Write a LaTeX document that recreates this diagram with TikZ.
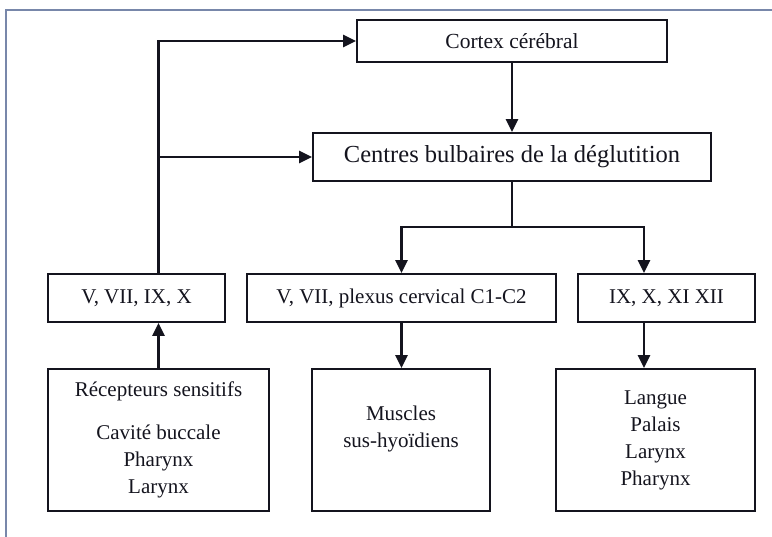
\documentclass[tikz,border=0pt]{standalone}
\usepackage{fontspec}
\setmainfont{Liberation Serif}
\usetikzlibrary{arrows.meta}
\definecolor{framecol}{RGB}{120,135,170}
\definecolor{ink}{RGB}{20,20,30}
\begin{document}
\begin{tikzpicture}[x=1pt,y=-1pt,
  box/.style={draw=ink,line width=1.9pt,rectangle,inner sep=0pt,align=center,text=ink,
    font=\fontsize{21}{27}\selectfont},
  conn/.style={draw=ink,line width=2.7pt},
  arr/.style={conn,-{Triangle[length=13pt,width=12pt]}}]
\useasboundingbox (0,0) rectangle (772,537);
\draw[framecol,line width=1.5pt] (6,537) -- (6,10) -- (772,10);
\node[box,minimum width=310pt,minimum height=42pt,font=\fontsize{21.5}{24}\selectfont] (cortex) at (512,41) {Cortex cérébral};
\node[box,minimum width=398pt,minimum height=48pt,font=\fontsize{24.5}{28}\selectfont] (centres) at (512,157) {Centres bulbaires de la déglutition};
\node[box,minimum width=177pt,minimum height=48pt] (nV) at (136.5,298) {V, VII, IX, X};
\node[box,minimum width=309pt,minimum height=48pt] (nplex) at (401.5,298) {V, VII, plexus cervical C1-C2};
\node[box,minimum width=177pt,minimum height=48pt] (nIX) at (666.5,298) {IX, X, XI XII};
\node[box,minimum width=221pt,minimum height=142pt] (recep) at (158.5,440) {Récepteurs sensitifs\\[16pt]Cavité buccale\\Pharynx\\Larynx};
\node[box,minimum width=178pt,minimum height=142pt] (muscles) at (401,440) {Muscles\\sus-hyoïdiens\\ };
\node[box,minimum width=199pt,minimum height=142pt] (langue) at (655.5,440) {Langue\\Palais\\Larynx\\Pharynx};
\coordinate (split) at (512,227);
\coordinate (ixin) at ([xshift=-22.5pt]nIX.north);
\coordinate (ixout) at ([xshift=-22.5pt]nIX.south);
\coordinate (vtop) at (recep.north |- nV.north);
\coordinate (branch) at (vtop |- centres.west);
\draw[arr] (recep.north) -- (recep.north |- nV.south);
\draw[arr] (vtop) |- (cortex.west);
\draw[arr] (branch) -- (centres.west);
\draw[arr] (cortex.south) -- (centres.north);
\draw[conn] (centres.south) -- (split);
\draw[arr] (split) -| (nplex.north);
\draw[arr] (split) -| (ixin);
\draw[arr] (nplex.south) -- (nplex.south |- muscles.north);
\draw[arr] (ixout) -- (ixout |- langue.north);
\end{tikzpicture}
\end{document}
